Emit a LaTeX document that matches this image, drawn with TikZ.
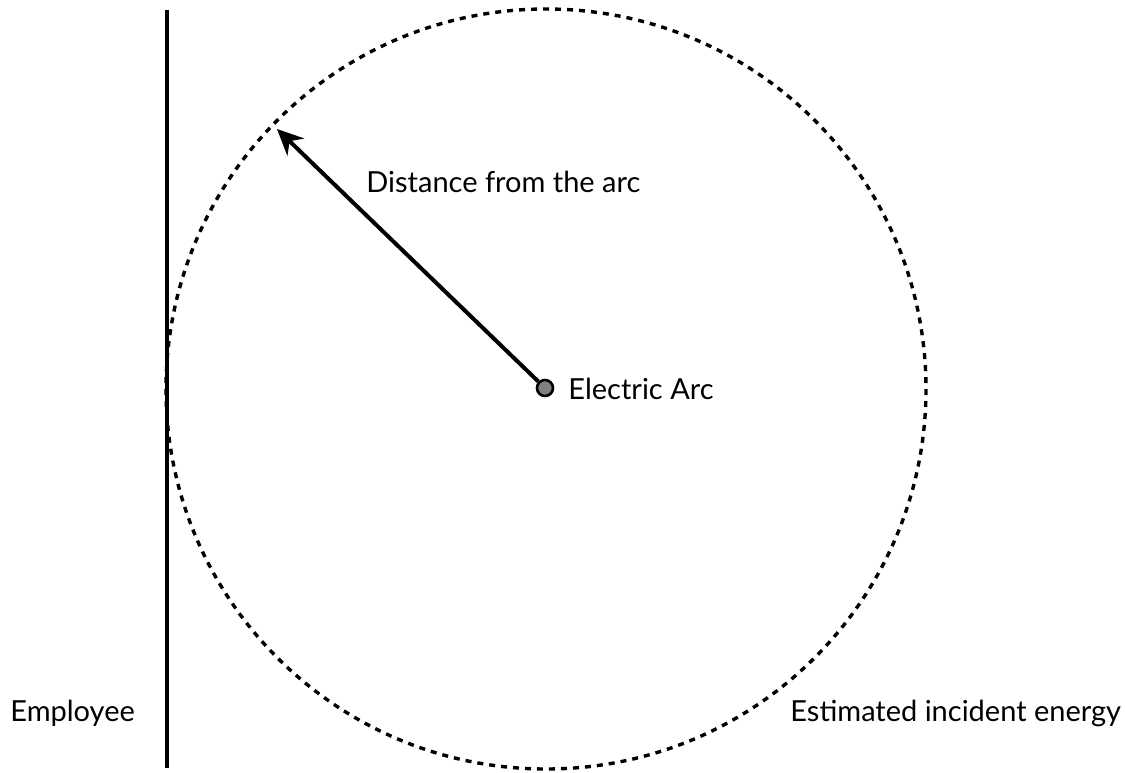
\documentclass[tikz,border=0pt]{standalone}
\usepackage{fontspec}
\setmainfont{Lato}
\usetikzlibrary{arrows.meta}
\tikzset{
  label/.style={font=\fontsize{14.5}{16}\selectfont, inner sep=0pt},
  zone/.style={line width=1.7pt, dash pattern=on 3pt off 3pt},
}
\begin{document}
\begin{tikzpicture}[x=0.5pt, y=-0.5pt]
  \useasboundingbox (0,0) rectangle (1125,772);
  % Zone d'energie
  \draw[zone] (546,389) circle (380);
  % Employe
  \coordinate (wtop) at (167,10);
  \coordinate (wbot) at (167,768);
  \draw[line width=2pt] (wtop) -- (wbot);
  \node[label, anchor=west] (emp) at (10,713) {Employee};
  % Arc
  \node[circle, draw, line width=1.3pt, fill=gray, minimum size=8pt, inner sep=0pt] (arc) at (545,388) {};
  \node[label, anchor=west] (arclbl) at (568,389) {Electric Arc};
  \coordinate (edge) at (277,129);
  \draw[-{Stealth[length=13pt, width=12pt]}, line width=2pt] (arc) -- (edge);
  \node[label, anchor=west] (dist) at (366,182) {Distance from the arc};
  \node[label, anchor=west] (energy) at (790,713) {Estimated incident energy};
\end{tikzpicture}
\end{document}
